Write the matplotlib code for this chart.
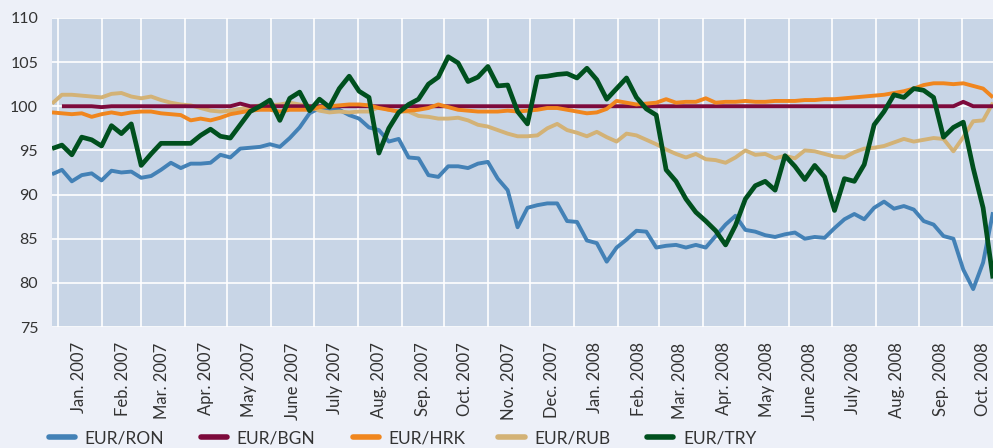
import numpy as np
import pandas as pd
import matplotlib
matplotlib.use('Agg')
import matplotlib.pyplot as plt
from matplotlib.lines import Line2D

plt.rcParams['font.family'] = ['Lato', 'DejaVu Sans']

# weekly observations, 28 Dec 2006 .. 23 Oct 2008 (index, start = 100)
dates = pd.date_range('2006-12-28', periods=96, freq='7D')

eur_ron = [92.3, 92.8, 91.5, 92.2, 92.4, 91.6, 92.7, 92.5, 92.6, 91.9,
           92.1, 92.8, 93.6, 93.0, 93.5, 93.5, 93.6, 94.5, 94.2, 95.2,
           95.3, 95.4, 95.7, 95.4, 96.4, 97.6, 99.2, 99.8, 99.7, 99.6,
           99.0, 98.6, 97.6, 97.3, 96.0, 96.3, 94.2, 94.1, 92.2, 92.0,
           93.2, 93.2, 93.0, 93.5, 93.7, 91.8, 90.5, 86.3, 88.5, 88.8,
           89.0, 89.0, 87.0, 86.9, 84.8, 84.5, 82.4, 84.0, 84.9, 85.9,
           85.8, 84.0, 84.2, 84.3, 84.0, 84.3, 84.0, 85.3, 86.6, 87.6,
           86.0, 85.8, 85.4, 85.2, 85.5, 85.7, 85.0, 85.2, 85.1, 86.2,
           87.2, 87.8, 87.2, 88.5, 89.2, 88.4, 88.7, 88.3, 87.0, 86.6,
           85.3, 85.0, 81.5, 79.3, 82.3, 88.0]

eur_bgn = [np.nan, 100.0, 100.0, 100.0, 100.0, 99.9, 100.0, 100.0, 100.0, 100.0,
           100.0, 100.0, 100.0, 100.0, 100.0, 100.0, 100.0, 100.0, 100.0, 100.3,
           100.0, 100.0, 100.0, 100.0, 100.0, 100.0, 100.0, 100.0, 100.0, 100.0,
           100.0, 100.0, 100.0, 100.0, 100.0, 100.0, 100.0, 100.0, 100.0, 100.0,
           100.0, 100.0, 100.0, 100.0, 100.0, 100.0, 100.0, 100.0, 100.0, 100.0,
           100.0, 100.0, 100.0, 100.0, 100.0, 100.0, 100.0, 100.0, 100.0, 100.0,
           100.0, 100.0, 100.0, 100.0, 100.0, 100.0, 100.0, 100.0, 100.0, 100.0,
           100.0, 100.0, 100.0, 100.0, 100.0, 100.0, 100.0, 100.0, 100.0, 100.0,
           100.0, 100.0, 100.0, 100.0, 100.0, 100.0, 100.0, 100.0, 100.0, 100.0,
           100.0, 100.0, 100.5, 100.0, 100.0, 100.0]

eur_hrk = [99.3, 99.2, 99.1, 99.2, 98.8, 99.1, 99.3, 99.1, 99.3, 99.4,
           99.4, 99.2, 99.1, 99.0, 98.4, 98.6, 98.4, 98.7, 99.1, 99.3,
           99.5, 99.6, 99.6, 99.4, 99.6, 99.6, 99.6, 99.9, 100.0, 100.1,
           100.2, 100.2, 100.1, 99.8, 99.6, 99.4, 99.5, 99.6, 99.8, 100.2,
           99.9, 99.6, 99.5, 99.4, 99.4, 99.4, 99.5, 99.4, 99.5, 99.6,
           99.8, 99.8, 99.6, 99.4, 99.2, 99.3, 99.7, 100.6, 100.4, 100.2,
           100.3, 100.4, 100.8, 100.4, 100.5, 100.5, 100.9, 100.4, 100.5, 100.5,
           100.6, 100.5, 100.5, 100.6, 100.6, 100.6, 100.7, 100.7, 100.8, 100.8,
           100.9, 101.0, 101.1, 101.2, 101.3, 101.5, 101.7, 102.0, 102.4, 102.6,
           102.6, 102.5, 102.6, 102.3, 102.0, 101.0]

eur_rub = [100.3, 101.3, 101.3, 101.2, 101.1, 101.0, 101.4, 101.5, 101.1, 100.9,
           101.1, 100.7, 100.4, 100.2, 100.1, 99.8, 99.5, 99.4, 99.5, 99.7,
           99.9, 100.1, 100.1, 100.2, 100.4, 100.2, 100.0, 99.5, 99.3, 99.4,
           99.3, 99.4, 99.4, 99.9, 99.6, 99.4, 99.4, 98.9, 98.8, 98.6,
           98.6, 98.7, 98.4, 97.9, 97.7, 97.3, 96.9, 96.6, 96.6, 96.7,
           97.5, 98.0, 97.3, 97.0, 96.6, 97.1, 96.5, 96.0, 96.9, 96.7,
           96.2, 95.7, 95.1, 94.6, 94.2, 94.6, 94.0, 93.9, 93.6, 94.2,
           95.0, 94.5, 94.6, 94.1, 94.4, 94.1, 95.0, 94.9, 94.6, 94.3,
           94.2, 94.8, 95.2, 95.3, 95.5, 95.9, 96.3, 96.0, 96.2, 96.4,
           96.3, 94.9, 96.5, 98.3, 98.4, 100.4]

eur_try = [95.2, 95.6, 94.5, 96.5, 96.2, 95.5, 97.8, 96.9, 98.0, 93.3,
           94.6, 95.8, 95.8, 95.8, 95.8, 96.7, 97.4, 96.6, 96.4, 97.9,
           99.4, 100.0, 100.7, 98.4, 100.9, 101.6, 99.5, 100.8, 99.9, 102.0,
           103.4, 101.7, 101.0, 94.7, 97.5, 99.3, 100.2, 100.8, 102.5, 103.3,
           105.6, 104.9, 102.8, 103.3, 104.5, 102.3, 102.4, 99.4, 98.0, 103.3,
           103.4, 103.6, 103.7, 103.2, 104.3, 103.0, 100.8, 102.0, 103.2, 101.0,
           99.7, 99.0, 92.8, 91.5, 89.5, 88.0, 87.0, 85.9, 84.3, 86.5,
           89.5, 91.0, 91.5, 90.5, 94.4, 93.2, 91.7, 93.3, 92.0, 88.2,
           91.8, 91.5, 93.4, 97.9, 99.4, 101.3, 101.0, 102.0, 101.8, 101.0,
           96.5, 97.6, 98.2, 93.0, 88.5, 80.5]

series = {
    'EUR/RON': (eur_ron, '#4381b6', 2.8, 1),
    'EUR/BGN': (eur_bgn, '#7d0a3c', 2.8, 3),
    'EUR/HRK': (eur_hrk, '#f0861e', 2.8, 4),
    'EUR/RUB': (eur_rub, '#d3b276', 2.8, 2),
    'EUR/TRY': (eur_try, '#00501e', 3.4, 5),
}

month_names = ['Jan.', 'Feb.', 'Mar.', 'Apr.', 'May', 'June', 'July',
               'Aug.', 'Sep.', 'Oct.', 'Nov.', 'Dec.']
month_starts = pd.date_range('2007-01-01', '2008-10-01', freq='MS')
tick_labels = ['%s %d' % (month_names[d.month - 1], d.year) for d in month_starts]
yticks = [75, 80, 85, 90, 95, 100, 105, 110]

fig = plt.figure(figsize=(9.93, 4.48), dpi=100, facecolor='#edf0f8')
ax = fig.add_axes([0.0524, 0.27, 0.9476, 0.69])
ax.set_facecolor('#c8d5e6')

handles = []
for name, (vals, col, lw, z) in series.items():
    ax.plot(dates, vals, color=col, lw=lw, zorder=z,
            solid_joinstyle='round', solid_capstyle='butt')
    handles.append(Line2D([], [], color=col, lw=4, solid_capstyle='round'))

ax.set_xlim(pd.Timestamp('2006-12-28'), pd.Timestamp('2008-10-23'))
ax.set_ylim(75, 110)
ax.set_yticks(yticks)

ax.set_xticks(month_starts)
ax.set_xticklabels([])
ax.set_xticks(month_starts + pd.Timedelta(days=15), minor=True)
ax.set_xticklabels(tick_labels, minor=True, rotation=90, ha='center', va='top')

ax.grid(True, which='major', color='white', lw=1.2, zorder=0)
ax.set_axisbelow(True)
ax.tick_params(axis='both', which='both', length=0, colors='#333333')
ax.tick_params(axis='y', labelsize=11.5, pad=10)
ax.tick_params(axis='x', which='minor', labelsize=12, pad=11)
for s in ax.spines.values():
    s.set_visible(False)

# legend entries spaced evenly along the bottom
leg_x = [0.049, 0.202, 0.355, 0.502, 0.652]
for h, name, x0 in zip(handles, series.keys(), leg_x):
    lg = fig.legend([h], [name], loc='center left', bbox_to_anchor=(x0, 0.022),
                    frameon=False, fontsize=12.5, handlelength=1.5,
                    handletextpad=0.55, borderpad=0, borderaxespad=0)
    for t in lg.get_texts():
        t.set_color('#333333')

fig.savefig('out.png', dpi=100, facecolor=fig.get_facecolor())
